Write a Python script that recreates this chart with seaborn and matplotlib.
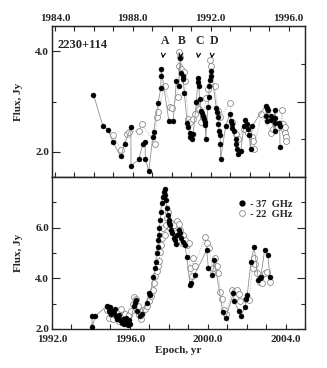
import numpy as np
import pandas as pd
import matplotlib
matplotlib.use("Agg")
import matplotlib.pyplot as plt
import seaborn as sns
from matplotlib.lines import Line2D

# ---- data ----
# upper panel (older epochs), 37 GHz filled / 22 GHz open
top_37_year = [1985.98, 1986.46, 1986.72, 1986.99, 1987.37, 1987.59, 1987.90, 1987.91, 1988.31, 1988.51,
               1988.62, 1988.65, 1988.82, 1989.03, 1989.07, 1989.30, 1989.44, 1989.45, 1989.46, 1989.85,
               1990.07, 1990.24, 1990.36, 1990.43, 1990.48, 1990.56, 1990.59, 1990.65, 1990.79, 1990.86,
               1990.92, 1990.96, 1991.04, 1991.10, 1991.27, 1991.35, 1991.37, 1991.40, 1991.43, 1991.50,
               1991.55, 1991.62, 1991.67, 1991.70, 1991.73, 1991.74, 1991.86, 1991.90, 1991.93, 1991.96,
               1992.00, 1992.03, 1992.29, 1992.33, 1992.36, 1992.40, 1992.44, 1992.48, 1992.50, 1992.51,
               1992.77, 1992.99, 1993.02, 1993.08, 1993.12, 1993.19, 1993.28, 1993.32, 1993.36, 1993.40,
               1993.54, 1993.71, 1993.78, 1993.85, 1993.90, 1993.97, 1994.05, 1994.14, 1994.82, 1994.85,
               1994.88, 1994.91, 1994.95, 1995.10, 1995.12, 1995.28, 1995.30, 1995.31, 1995.33, 1995.50,
               1995.55, 1995.56]
top_37_flux = [3.14, 2.52, 2.44, 2.19, 1.91, 2.16, 2.50, 1.72, 1.85, 2.15,
               2.20, 1.86, 1.62, 2.30, 2.40, 2.98, 3.26, 3.51, 3.65, 2.62,
               2.61, 3.40, 3.30, 3.86, 3.56, 3.51, 3.45, 3.17, 2.57, 2.50,
               2.38, 2.30, 2.25, 2.35, 3.00, 3.47, 3.38, 3.30, 3.05, 2.81,
               2.77, 2.72, 2.65, 2.60, 2.53, 2.25, 2.90, 3.10, 3.30, 3.43,
               3.51, 3.61, 2.87, 2.80, 2.70, 2.56, 2.42, 2.34, 2.15, 1.86,
               2.51, 2.76, 2.62, 2.55, 2.48, 2.41, 2.25, 2.15, 2.05, 1.95,
               2.01, 2.51, 2.63, 2.55, 2.45, 2.34, 2.05, 2.52, 2.92, 2.72,
               2.87, 2.61, 2.84, 2.72, 2.63, 2.41, 2.84, 2.68, 2.58, 2.58,
               2.52, 2.10]

top_22_year = [1987.00, 1987.38, 1987.69, 1987.78, 1988.32, 1988.48, 1989.16, 1989.22, 1989.27, 1989.64,
               1989.93, 1990.02, 1990.30, 1990.36, 1990.39, 1990.45, 1990.50, 1990.62, 1990.70, 1990.85,
               1990.95, 1991.10, 1991.20, 1991.30, 1991.42, 1991.50, 1991.60, 1991.78, 1991.88, 1991.98,
               1992.04, 1992.20, 1992.38, 1992.48, 1993.00, 1993.10, 1993.30, 1993.40, 1993.70, 1993.90,
               1994.10, 1994.15, 1994.22, 1994.60, 1995.10, 1995.20, 1995.48, 1995.58, 1995.68, 1995.72,
               1995.78, 1995.80, 1995.82, 1995.85, 1995.88]
top_22_flux = [2.34, 2.03, 2.35, 2.40, 2.42, 2.55, 2.15, 2.70, 2.80, 3.30,
               2.90, 2.88, 3.10, 3.70, 3.99, 3.88, 3.65, 3.58, 3.40, 2.65,
               2.60, 2.65, 2.75, 3.00, 2.85, 2.60, 2.70, 3.07, 3.25, 3.83,
               3.70, 3.30, 2.82, 2.70, 2.97, 2.60, 2.35, 2.25, 2.45, 2.38,
               2.30, 2.22, 2.05, 2.75, 2.38, 2.45, 2.50, 2.55, 2.84, 2.55,
               2.45, 2.38, 2.50, 2.30, 2.22]

# lower panel (recent epochs)
bot_37_year = [1994.05, 1994.07, 1994.22, 1994.82, 1994.90, 1994.95, 1995.00, 1995.05, 1995.10, 1995.18,
               1995.25, 1995.30, 1995.35, 1995.45, 1995.50, 1995.58, 1995.65, 1995.72, 1995.80, 1995.85,
               1995.90, 1995.95, 1996.02, 1996.19, 1996.26, 1996.33, 1996.38, 1996.50, 1996.62, 1996.87,
               1996.96, 1997.04, 1997.21, 1997.30, 1997.33, 1997.38, 1997.44, 1997.47, 1997.50, 1997.52,
               1997.56, 1997.59, 1997.63, 1997.68, 1997.73, 1997.78, 1997.82, 1997.85, 1997.90, 1997.95,
               1998.00, 1998.03, 1998.07, 1998.12, 1998.18, 1998.25, 1998.30, 1998.35, 1998.42, 1998.50,
               1998.58, 1998.63, 1998.75, 1998.82, 1998.92, 1999.09, 1999.15, 1999.32, 1999.95, 2000.03,
               2000.24, 2000.34, 2000.77, 2000.92, 2001.32, 2001.35, 2001.59, 2001.69, 2001.91, 2001.98,
               2002.03, 2002.22, 2002.38, 2002.60, 2002.66, 2002.72, 2002.92, 2003.08, 2003.20]
bot_37_flux = [2.50, 2.08, 2.50, 2.92, 2.88, 2.72, 2.85, 2.60, 2.70, 2.65,
               2.80, 2.50, 2.40, 2.55, 2.35, 2.25, 2.40, 2.20, 2.45, 2.30,
               2.15, 2.35, 2.20, 2.89, 3.02, 3.15, 2.70, 2.50, 2.61, 3.02,
               3.42, 3.34, 4.06, 4.39, 4.65, 5.00, 5.24, 5.52, 5.70, 5.98,
               6.30, 6.63, 6.96, 7.23, 7.42, 7.51, 7.30, 7.10, 6.77, 6.50,
               6.30, 6.20, 6.10, 5.90, 5.80, 5.60, 5.50, 5.35, 5.70, 5.90,
               5.78, 5.60, 5.45, 5.30, 4.86, 3.74, 3.80, 4.14, 5.12, 4.39,
               4.14, 4.73, 2.66, 2.43, 3.42, 3.11, 2.73, 2.52, 2.85, 3.19,
               3.35, 4.66, 5.25, 3.94, 4.00, 4.05, 5.10, 4.92, 4.05]

bot_22_year = [1994.80, 1994.95, 1995.05, 1995.15, 1995.25, 1995.35, 1995.45, 1995.55, 1995.65, 1995.75,
               1995.85, 1995.95, 1996.05, 1996.15, 1996.22, 1996.30, 1996.40, 1996.48, 1996.58, 1996.70,
               1996.80, 1996.90, 1997.00, 1997.10, 1997.18, 1997.25, 1997.30, 1997.38, 1997.45, 1997.50,
               1997.55, 1997.60, 1997.65, 1997.70, 1997.78, 1997.85, 1997.90, 1997.95, 1998.05, 1998.12,
               1998.20, 1998.28, 1998.35, 1998.42, 1998.50, 1998.60, 1998.68, 1998.75, 1998.85, 1998.95,
               1999.02, 1999.10, 1999.18, 1999.25, 1999.32, 1999.86, 1999.98, 2000.05, 2000.25, 2000.35,
               2000.45, 2000.55, 2000.65, 2000.72, 2000.85, 2000.95, 2001.25, 2001.40, 2001.50, 2001.58,
               2001.65, 2001.98, 2002.12, 2002.30, 2002.40, 2002.45, 2002.55, 2002.70, 2002.80, 2002.95,
               2003.05, 2003.20]
bot_22_flux = [2.75, 2.45, 2.60, 2.40, 2.55, 2.70, 2.30, 2.80, 2.50, 2.60,
               2.40, 2.55, 2.70, 3.00, 3.25, 3.20, 2.90, 2.55, 2.40, 2.75,
               2.80, 2.90, 3.10, 3.30, 3.55, 3.80, 4.10, 4.30, 4.50, 4.70,
               5.05, 5.30, 5.60, 6.00, 5.70, 6.10, 6.40, 6.60, 6.00, 6.20,
               5.90, 6.10, 5.80, 6.25, 6.15, 5.90, 5.40, 5.70, 5.50, 5.30,
               5.40, 4.40, 4.10, 4.80, 4.50, 5.65, 5.40, 5.20, 4.40, 4.80,
               4.50, 4.20, 3.45, 3.20, 2.75, 2.60, 3.55, 3.50, 3.55, 3.40,
               3.10, 3.20, 3.15, 4.40, 4.80, 4.55, 4.20, 3.85, 3.80, 4.20,
               4.25, 3.85]

flare_labels = ["A", "B", "C", "D"]
flare_epochs = [1989.54, 1990.44, 1991.35, 1992.05]

top_df37 = pd.DataFrame({"year": top_37_year, "flux": top_37_flux})
top_df22 = pd.DataFrame({"year": top_22_year, "flux": top_22_flux})
bot_df37 = pd.DataFrame({"year": bot_37_year, "flux": bot_37_flux})
bot_df22 = pd.DataFrame({"year": bot_22_year, "flux": bot_22_flux})

sns.set_style("ticks")
plt.rcParams["font.family"] = ["Liberation Serif", "DejaVu Serif"]
plt.rcParams["font.weight"] = "bold"
plt.rcParams["axes.labelweight"] = "bold"

fig = plt.figure(figsize=(3.27, 3.68), dpi=100)
ax1 = fig.add_axes([0.159, 0.519, 0.774, 0.410])
ax2 = fig.add_axes([0.159, 0.106, 0.774, 0.413])


def draw_series(ax, d37, d22):
    # 22 GHz: grey open circles joined by a dotted line
    sns.lineplot(data=d22, x="year", y="flux", ax=ax, estimator=None, sort=False,
                 color="#a0a0a0", lw=0.6, linestyle=":", zorder=1)
    sns.scatterplot(data=d22, x="year", y="flux", ax=ax, s=18, facecolor="white",
                    edgecolor="#8a8a8a", linewidth=0.6, zorder=2)
    # 37 GHz: black dots joined by a thin grey line
    sns.lineplot(data=d37, x="year", y="flux", ax=ax, estimator=None, sort=False,
                 color="#909090", lw=0.6, zorder=3)
    sns.scatterplot(data=d37, x="year", y="flux", ax=ax, s=13, color="black",
                    edgecolor="black", linewidth=0.3, zorder=4)


draw_series(ax1, top_df37, top_df22)
draw_series(ax2, bot_df37, bot_df22)

for ax in (ax1, ax2):
    for sp in ax.spines.values():
        sp.set_linewidth(1.0)
    ax.set_ylabel("Flux, Jy", fontsize=8, labelpad=9)

# upper panel axes
ax1.set_xlim(1983.85, 1996.85)
ax1.set_ylim(1.5, 4.5)
ax1.set_xticks([1984, 1988, 1992, 1996])
ax1.set_xticklabels(["1984.0", "1988.0", "1992.0", "1996.0"])
ax1.set_xticks(np.arange(1984, 1997), minor=True)
ax1.set_yticks([2.0, 4.0])
ax1.set_yticklabels(["2.0", "4.0"])
ax1.set_yticks([3.0], minor=True)
ax1.set_xlabel("")
ax1.tick_params(axis="x", which="both", direction="in", top=True, bottom=True,
                labeltop=True, labelbottom=False, length=3.5, width=0.8, labelsize=8, pad=2)
ax1.tick_params(axis="y", which="major", direction="in", length=6, width=0.8, labelsize=8, pad=2)
ax1.tick_params(axis="y", which="minor", direction="in", length=3, width=0.8)
ax1r = ax1.twinx()
ax1r.set_ylim(1.5, 4.5)
ax1r.set_yticks([3.0])
ax1r.set_yticks([2.25, 3.75], minor=True)
ax1r.set_yticklabels([])
ax1r.tick_params(axis="y", which="major", direction="in", length=6, width=0.8)
ax1r.tick_params(axis="y", which="minor", direction="in", length=3, width=0.8)
ax1r.set_ylabel("")

ax1.text(0.02, 0.875, "2230+114", transform=ax1.transAxes, fontsize=9,
         fontweight="bold", va="center", ha="left")
for lab, ep in zip(flare_labels, flare_epochs):
    ax1.annotate(lab, xy=(ep, 3.86), xytext=(ep + 0.1, 4.2), fontsize=8.5,
                 fontweight="bold", ha="center", va="center",
                 arrowprops=dict(arrowstyle="->", color="black", lw=0.8,
                                 shrinkA=4, shrinkB=0, mutation_scale=7))

# lower panel axes
ax2.set_xlim(1992.0, 2005.0)
ax2.set_ylim(2.0, 8.0)
ax2.set_xticks([1992, 1996, 2000, 2004])
ax2.set_xticklabels(["1992.0", "1996.0", "2000.0", "2004.0"])
ax2.set_xticks(np.arange(1992, 2006), minor=True)
ax2.set_yticks([2.0, 4.0, 6.0])
ax2.set_yticklabels(["2.0", "4.0", "6.0"])
ax2.set_yticks([3.0, 5.0, 7.0], minor=True)
ax2.tick_params(axis="x", which="both", direction="in", top=False, bottom=True,
                length=3.5, width=0.8, labelsize=8, pad=4)
ax2.tick_params(axis="y", which="major", direction="in", right=True, length=6,
                width=0.8, labelsize=8, pad=2)
ax2.tick_params(axis="y", which="minor", direction="in", right=True, length=3, width=0.8)
ax2.set_xlabel("Epoch, yr", fontsize=8, labelpad=2)

# legend
handles = [Line2D([], [], marker="o", ls="", color="black", markersize=3.5),
           Line2D([], [], marker="o", ls="", markerfacecolor="white",
                  markeredgecolor="#8a8a8a", markeredgewidth=0.6, markersize=4.2)]
ax2.legend(handles, ["- 37  GHz", "- 22  GHz"], loc="upper right", frameon=False,
           fontsize=7.5, handlelength=0.6, handletextpad=0.5, labelspacing=0.1,
           borderaxespad=0.3, bbox_to_anchor=(0.98, 0.9))

fig.savefig("out.png", dpi=100)
